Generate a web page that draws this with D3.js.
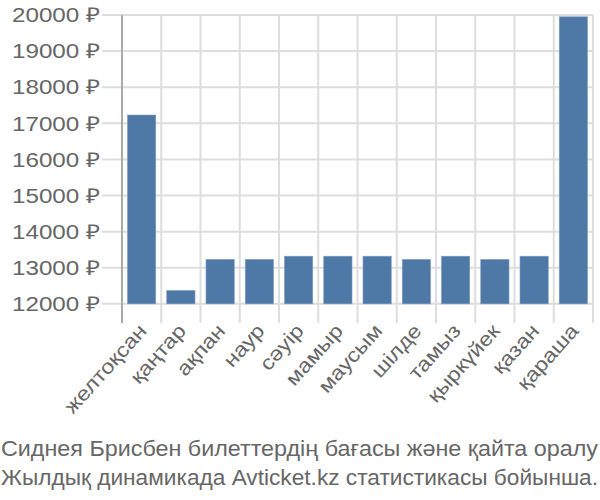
<!DOCTYPE html>
<html><head><meta charset="utf-8">
<script src="https://cdn.jsdelivr.net/npm/d3@7"></script>
<style>body{margin:0;background:#fff;} text{font-family:"Liberation Sans",Arial,sans-serif;}</style>
</head><body>
<svg id="c" width="600" height="500"></svg>
<script>
const categories = ["желтоқсан","қаңтар","ақпан","наур","сәуір","мамыр","маусым","шілде","тамыз","қыркүйек","қазан","қараша"];
const values = [17230, 12370, 13230, 13230, 13320, 13320, 13320, 13230, 13320, 13230, 13320, 19950];
const yTicks = [12000,13000,14000,15000,16000,17000,18000,19000,20000];
const captionLines = ["Сиднея Брисбен билеттердің бағасы және қайта оралу","Жылдық динамикада Avticket.kz статистикасы бойынша."];

const svg = d3.select("#c");
const pL = 122, pR = 593, pT = 15, pB = 323;
const x = d3.scaleBand().domain(categories).range([pL, pR]).paddingInner(0.28).paddingOuter(0.14);
const y = d3.scaleLinear().domain([11470, 20000]).range([pB, pT]);

// horizontal gridlines
svg.append("g").selectAll("line").data(yTicks).join("line")
  .attr("x1", pL - 20).attr("x2", pR)
  .attr("y1", d => y(d)).attr("y2", d => y(d))
  .attr("stroke", "#ddd").attr("stroke-width", 2);
// vertical gridlines at band boundaries
const step = x.step();
const bounds = d3.range(categories.length + 1).map(i => pL + i * step);
svg.append("g").selectAll("line").data(bounds.slice(1)).join("line")
  .attr("x1", d => d).attr("x2", d => d)
  .attr("y1", pT).attr("y2", pB)
  .attr("stroke", "#ddd").attr("stroke-width", 2);
// y axis line
svg.append("line").attr("x1", pL).attr("x2", pL).attr("y1", pT).attr("y2", pB)
  .attr("stroke", "#aaa").attr("stroke-width", 2);

// bars
svg.append("g").selectAll("rect").data(values).join("rect")
  .attr("x", (d, i) => x(categories[i]))
  .attr("width", x.bandwidth())
  .attr("y", d => y(d))
  .attr("height", d => y(12000) - y(d))
  .attr("fill", "#4e79a7")
  .attr("stroke", "#7d9cc0").attr("stroke-width", 0.6);

// y tick labels
svg.append("g").selectAll("text").data(yTicks).join("text")
  .attr("transform", d => `translate(100,${y(d)}) scale(1.18,1)`)
  .attr("dy", "0.35em")
  .attr("text-anchor", "end").attr("font-size", 20.5).attr("fill", "#666")
  .text(d => d + " ₽");

// x labels
svg.append("g").selectAll("text").data(categories).join("text")
  .attr("transform", d => `translate(${x(d) + x.bandwidth() / 2 + 1},${pB + 4}) rotate(-48) scale(1.16,1)`)
  .attr("text-anchor", "end").attr("dy", "0.35em")
  .attr("font-size", 20).attr("fill", "#666")
  .text(d => d);

// caption
svg.append("g").selectAll("text").data(captionLines).join("text")
  .attr("x", 1).attr("y", (d, i) => 456 + i * 29)
  .attr("textLength", (d, i) => i === 0 ? 597 : 597)
  .attr("lengthAdjust", "spacingAndGlyphs")
  .attr("font-size", 21.5).attr("fill", "#666")
  .text(d => d);
</script>
</body></html>
